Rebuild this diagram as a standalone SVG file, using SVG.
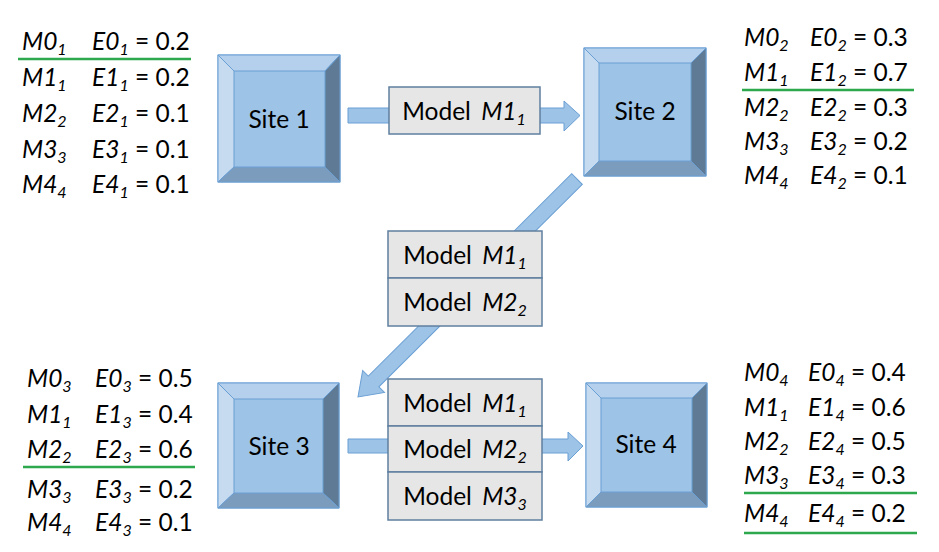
<svg xmlns="http://www.w3.org/2000/svg" width="939" height="552" viewBox="0 0 939 552">
<defs>
<style>
text{font-family:Lato,"Open Sans","Liberation Sans",sans-serif;fill:#000}
.t{font-size:24.5px}
.i{font-style:italic}
.s{font-size:16px}
.lbl{font-size:24.5px;text-anchor:middle}
.mdl{font-size:24.5px;text-anchor:middle}
.face{fill:#9DC3E6;stroke:#6A9FD4;stroke-width:1}
.bt{fill:#B4D0EC;stroke:#6A9FD4;stroke-width:1}
.bl{fill:#C6DAF0;stroke:#6A9FD4;stroke-width:1}
.br{fill:#5F7A94;stroke:#6A9FD4;stroke-width:1}
.bb{fill:#7C9CBE;stroke:#6A9FD4;stroke-width:1}
.arr{fill:#9DC3E6;stroke:#6A9FD4;stroke-width:1}
.mb{fill:#E7E6E6;stroke:#5F7F9F;stroke-width:1.5}
.g{stroke:#2EA84C;stroke-width:2.5;fill:none}
</style>
</defs>
<rect width="939" height="552" fill="#fff"/>

<g id="connectors">
<polygon class="arr" points="348,108 564,108 564,101 580,115.5 564,131 564,123 348,123"/>
<polygon class="arr" transform="translate(577,179) rotate(135.13)" points="0,-7.5 287,-7.5 287,-15.5 309,0 287,15.5 287,7.5 0,7.5"/>
<polygon class="arr" points="348,439 568,439 568,432 583,446 568,461 568,453 348,453"/>
</g>

<g id="site1">
<rect class="face" x="218" y="55" width="122" height="127"/>
<polygon class="bt" points="218,55 340,55 325,71 234,71"/>
<polygon class="bl" points="218,55 234,71 234,167 218,182"/>
<polygon class="br" points="340,55 340,182 325,167 325,71"/>
<polygon class="bb" points="218,182 234,167 325,167 340,182"/>
<text class="lbl" x="279" y="128">Site 1</text>
</g>

<g id="site2">
<rect class="face" x="584" y="48" width="122" height="128"/>
<polygon class="bt" points="584,48 706,48 691,63 599,63"/>
<polygon class="bl" points="584,48 599,63 599,161 584,176"/>
<polygon class="br" points="706,48 706,176 691,161 691,63"/>
<polygon class="bb" points="584,176 599,161 691,161 706,176"/>
<text class="lbl" x="645" y="120">Site 2</text>
</g>

<g id="site3">
<rect class="face" x="218" y="383" width="121" height="125"/>
<polygon class="bt" points="218,383 339,383 323,399 234,399"/>
<polygon class="bl" points="218,383 234,399 234,493 218,508"/>
<polygon class="br" points="339,383 339,508 323,493 323,399"/>
<polygon class="bb" points="218,508 234,493 323,493 339,508"/>
<text class="lbl" x="279" y="455">Site 3</text>
</g>

<g id="site4">
<rect class="face" x="586" y="383" width="121" height="124"/>
<polygon class="bt" points="586,383 707,383 692,398 601,398"/>
<polygon class="bl" points="586,383 601,398 601,492 586,507"/>
<polygon class="br" points="707,383 707,507 692,492 692,398"/>
<polygon class="bb" points="586,507 601,492 692,492 707,507"/>
<text class="lbl" x="646" y="453">Site 4</text>
</g>

<g id="model-1-2">
<rect class="mb" x="389" y="87" width="151" height="47"/>
<text class="mdl" x="464" y="120">Model <tspan class="i" dx="4">M1</tspan><tspan class="i s" dy="5">1</tspan></text>
</g>

<g id="models-2-3">
<rect class="mb" x="388" y="231" width="154" height="47"/>
<rect class="mb" x="388" y="278" width="154" height="48"/>
<text class="mdl" x="465" y="264">Model <tspan class="i" dx="4">M1</tspan><tspan class="i s" dy="5">1</tspan></text>
<text class="mdl" x="465" y="311">Model <tspan class="i" dx="4">M2</tspan><tspan class="i s" dy="5">2</tspan></text>
</g>

<g id="models-3-4">
<rect class="mb" x="388" y="379" width="154" height="47"/>
<rect class="mb" x="388" y="426" width="154" height="46"/>
<rect class="mb" x="388" y="472" width="154" height="48"/>
<text class="mdl" x="465" y="412">Model <tspan class="i" dx="4">M1</tspan><tspan class="i s" dy="5">1</tspan></text>
<text class="mdl" x="465" y="458">Model <tspan class="i" dx="4">M2</tspan><tspan class="i s" dy="5">2</tspan></text>
<text class="mdl" x="465" y="505">Model <tspan class="i" dx="4">M3</tspan><tspan class="i s" dy="5">3</tspan></text>
</g>

<g id="table1">
<text class="t" x="22" y="50"><tspan class="i">M0</tspan><tspan class="i s" dy="5">1</tspan></text>
<text class="t" x="92" y="50"><tspan class="i">E0</tspan><tspan class="i s" dy="5">1</tspan><tspan dy="-5"> = 0.2</tspan></text>
<text class="t" x="22" y="86"><tspan class="i">M1</tspan><tspan class="i s" dy="5">1</tspan></text>
<text class="t" x="92" y="86"><tspan class="i">E1</tspan><tspan class="i s" dy="5">1</tspan><tspan dy="-5"> = 0.2</tspan></text>
<text class="t" x="22" y="122"><tspan class="i">M2</tspan><tspan class="i s" dy="5">2</tspan></text>
<text class="t" x="92" y="122"><tspan class="i">E2</tspan><tspan class="i s" dy="5">1</tspan><tspan dy="-5"> = 0.1</tspan></text>
<text class="t" x="22" y="158"><tspan class="i">M3</tspan><tspan class="i s" dy="5">3</tspan></text>
<text class="t" x="92" y="158"><tspan class="i">E3</tspan><tspan class="i s" dy="5">1</tspan><tspan dy="-5"> = 0.1</tspan></text>
<text class="t" x="22" y="193"><tspan class="i">M4</tspan><tspan class="i s" dy="5">4</tspan></text>
<text class="t" x="92" y="193"><tspan class="i">E4</tspan><tspan class="i s" dy="5">1</tspan><tspan dy="-5"> = 0.1</tspan></text>
<line class="g" x1="18" y1="59" x2="191" y2="59"/>
</g>

<g id="table2">
<text class="t" x="744" y="46"><tspan class="i">M0</tspan><tspan class="i s" dy="5">2</tspan></text>
<text class="t" x="810" y="46"><tspan class="i">E0</tspan><tspan class="i s" dy="5">2</tspan><tspan dy="-5"> = 0.3</tspan></text>
<text class="t" x="744" y="81"><tspan class="i">M1</tspan><tspan class="i s" dy="5">1</tspan></text>
<text class="t" x="810" y="81"><tspan class="i">E1</tspan><tspan class="i s" dy="5">2</tspan><tspan dy="-5"> = 0.7</tspan></text>
<text class="t" x="744" y="116"><tspan class="i">M2</tspan><tspan class="i s" dy="5">2</tspan></text>
<text class="t" x="810" y="116"><tspan class="i">E2</tspan><tspan class="i s" dy="5">2</tspan><tspan dy="-5"> = 0.3</tspan></text>
<text class="t" x="744" y="150"><tspan class="i">M3</tspan><tspan class="i s" dy="5">3</tspan></text>
<text class="t" x="810" y="150"><tspan class="i">E3</tspan><tspan class="i s" dy="5">2</tspan><tspan dy="-5"> = 0.2</tspan></text>
<text class="t" x="744" y="184"><tspan class="i">M4</tspan><tspan class="i s" dy="5">4</tspan></text>
<text class="t" x="810" y="184"><tspan class="i">E4</tspan><tspan class="i s" dy="5">2</tspan><tspan dy="-5"> = 0.1</tspan></text>
<line class="g" x1="742" y1="90" x2="914" y2="90"/>
</g>

<g id="table3">
<text class="t" x="27" y="387"><tspan class="i">M0</tspan><tspan class="i s" dy="5">3</tspan></text>
<text class="t" x="95" y="387"><tspan class="i">E0</tspan><tspan class="i s" dy="5">3</tspan><tspan dy="-5"> = 0.5</tspan></text>
<text class="t" x="27" y="423"><tspan class="i">M1</tspan><tspan class="i s" dy="5">1</tspan></text>
<text class="t" x="95" y="423"><tspan class="i">E1</tspan><tspan class="i s" dy="5">3</tspan><tspan dy="-5"> = 0.4</tspan></text>
<text class="t" x="27" y="458"><tspan class="i">M2</tspan><tspan class="i s" dy="5">2</tspan></text>
<text class="t" x="95" y="458"><tspan class="i">E2</tspan><tspan class="i s" dy="5">3</tspan><tspan dy="-5"> = 0.6</tspan></text>
<text class="t" x="27" y="498"><tspan class="i">M3</tspan><tspan class="i s" dy="5">3</tspan></text>
<text class="t" x="95" y="498"><tspan class="i">E3</tspan><tspan class="i s" dy="5">3</tspan><tspan dy="-5"> = 0.2</tspan></text>
<text class="t" x="27" y="531"><tspan class="i">M4</tspan><tspan class="i s" dy="5">4</tspan></text>
<text class="t" x="95" y="531"><tspan class="i">E4</tspan><tspan class="i s" dy="5">3</tspan><tspan dy="-5"> = 0.1</tspan></text>
<line class="g" x1="23" y1="467" x2="195" y2="467"/>
</g>

<g id="table4">
<text class="t" x="744" y="381"><tspan class="i">M0</tspan><tspan class="i s" dy="5">4</tspan></text>
<text class="t" x="808" y="381"><tspan class="i">E0</tspan><tspan class="i s" dy="5">4</tspan><tspan dy="-5"> = 0.4</tspan></text>
<text class="t" x="744" y="416"><tspan class="i">M1</tspan><tspan class="i s" dy="5">1</tspan></text>
<text class="t" x="808" y="416"><tspan class="i">E1</tspan><tspan class="i s" dy="5">4</tspan><tspan dy="-5"> = 0.6</tspan></text>
<text class="t" x="744" y="450"><tspan class="i">M2</tspan><tspan class="i s" dy="5">2</tspan></text>
<text class="t" x="808" y="450"><tspan class="i">E2</tspan><tspan class="i s" dy="5">4</tspan><tspan dy="-5"> = 0.5</tspan></text>
<text class="t" x="744" y="484"><tspan class="i">M3</tspan><tspan class="i s" dy="5">3</tspan></text>
<text class="t" x="808" y="484"><tspan class="i">E3</tspan><tspan class="i s" dy="5">4</tspan><tspan dy="-5"> = 0.3</tspan></text>
<text class="t" x="744" y="522"><tspan class="i">M4</tspan><tspan class="i s" dy="5">4</tspan></text>
<text class="t" x="808" y="522"><tspan class="i">E4</tspan><tspan class="i s" dy="5">4</tspan><tspan dy="-5"> = 0.2</tspan></text>
<line class="g" x1="744" y1="493" x2="917" y2="493"/>
<line class="g" x1="744" y1="533" x2="917" y2="533"/>
</g>
</svg>
